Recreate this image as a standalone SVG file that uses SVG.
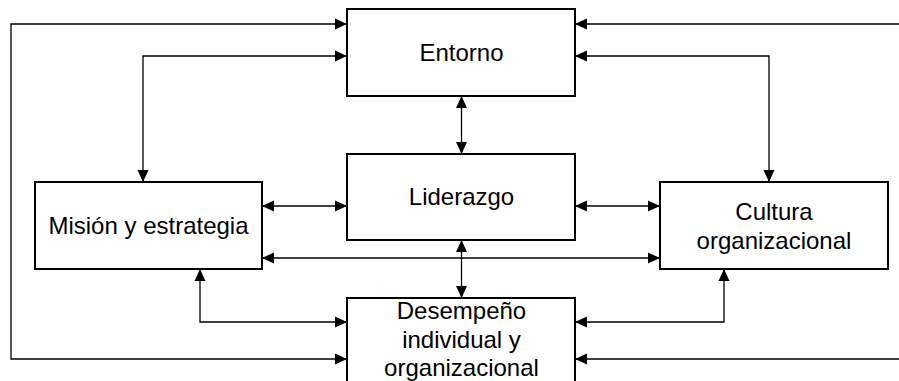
<svg xmlns="http://www.w3.org/2000/svg" width="899" height="381" viewBox="0 0 899 381">
<style>
.box{fill:#fff;stroke:#000;stroke-width:2}
.lbl{font-family:"Liberation Sans",Arial,sans-serif;font-size:24px;fill:#000;text-anchor:middle}
.con{fill:none;stroke:#000;stroke-width:1.3;marker-start:url(#ah);marker-end:url(#ah)}
</style>
<defs>
<marker id="ah" markerUnits="userSpaceOnUse" markerWidth="13" markerHeight="13" viewBox="0 0 13 13" refX="12" refY="6.5" orient="auto-start-reverse">
<path d="M0,1 L12,6.5 L0,12 Z" fill="#000"/>
</marker>
</defs>
<rect width="899" height="381" fill="#fff"/>
<g id="connectors">
<path class="con" d="M347,24 H11 V359 H347"/>
<path class="con" d="M575,24 H906 V359 H575"/>
<path class="con" d="M347,56 H143 V182"/>
<path class="con" d="M575,56 H769 V182"/>
<path class="con" d="M461.5,96 V154"/>
<path class="con" d="M262,206 H347"/>
<path class="con" d="M575,206 H660"/>
<path class="con" d="M262,258 H660"/>
<path class="con" d="M461.5,240 V298"/>
<path class="con" d="M200,269 V322 H347"/>
<path class="con" d="M724,269 V322 H575"/>
</g>
<g id="entorno">
<rect class="box" x="347" y="9" width="228" height="87"/>
<text class="lbl" x="461.5" y="61">Entorno</text>
</g>
<g id="liderazgo">
<rect class="box" x="347" y="154" width="228" height="86"/>
<text class="lbl" x="461.5" y="205">Liderazgo</text>
</g>
<g id="mision">
<rect class="box" x="35" y="182" width="227" height="87"/>
<text class="lbl" x="148.5" y="234">Misión y estrategia</text>
</g>
<g id="cultura">
<rect class="box" x="660" y="182" width="228" height="87"/>
<text class="lbl" x="774" y="220">Cultura</text>
<text class="lbl" x="774" y="249">organizacional</text>
</g>
<g id="desempeno">
<rect class="box" x="347" y="298" width="228" height="92"/>
<text class="lbl" x="461.5" y="319">Desempeño</text>
<text class="lbl" x="461.5" y="348">individual y</text>
<text class="lbl" x="461.5" y="375.5">organizacional</text>
</g>
</svg>
